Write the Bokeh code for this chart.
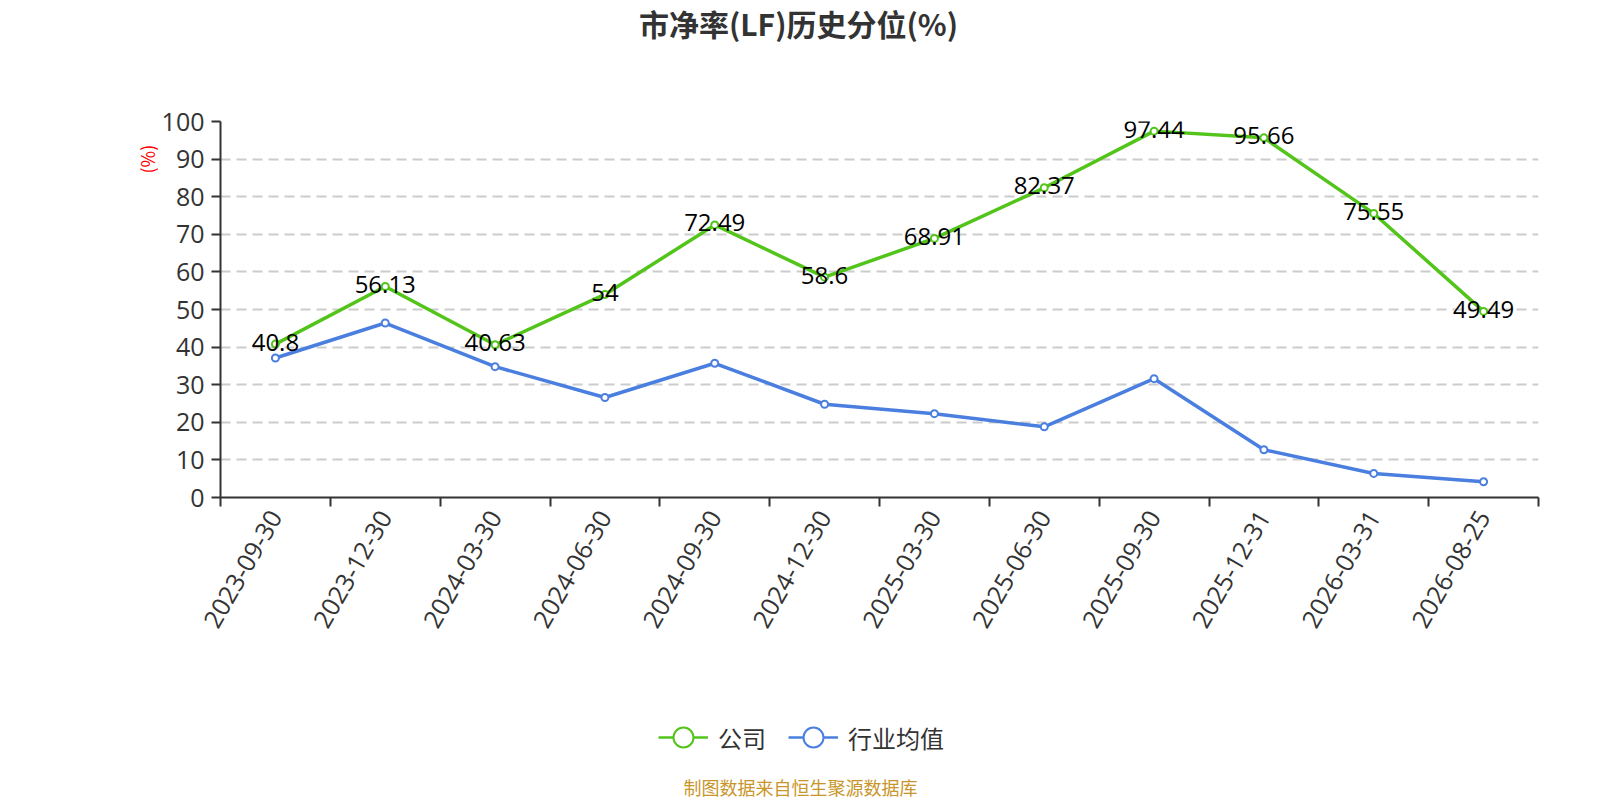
import math
from bokeh.plotting import figure
from bokeh.layouts import column, row
from bokeh.models import (ColumnDataSource, Range1d, FixedTicker, Label, LabelSet,
                          Legend, LegendItem)
from bokeh.core.properties import value
from bokeh.embed import file_html
from bokeh.resources import INLINE

# ---- data ----
dates = ["2023-09-30", "2023-12-30", "2024-03-30", "2024-06-30", "2024-09-30",
         "2024-12-30", "2025-03-30", "2025-06-30", "2025-09-30", "2025-12-31",
         "2026-03-31", "2026-08-25"]
company = [40.8, 56.13, 40.63, 54, 72.49, 58.6, 68.91, 82.37, 97.44, 95.66, 75.55, 49.49]
industry = [37.1, 46.4, 34.8, 26.6, 35.7, 24.8, 22.3, 18.8, 31.6, 12.7, 6.4, 4.2]
company_labels = ["40.8", "56.13", "40.63", "54", "72.49", "58.6", "68.91", "82.37",
                  "97.44", "95.66", "75.55", "49.49"]
y_ticks = [0, 10, 20, 30, 40, 50, 60, 70, 80, 90, 100]
title_text = "市净率(LF)历史分位(%)"
series_names = ["公司", "行业均值"]
y_name = "(%)"
footer_text = "制图数据来自恒生聚源数据库"

GREEN = "#52c41a"
BLUE = "#4a7fe0"
NUM_FONT = "Open Sans"
CJK_FONT = "Noto Sans CJK SC"

W = 1584
TOP_H = 100
MAIN_H = 560
BOT_H = 140
LEFT_W = 158

def blank(w, h):
    f = figure(width=w, height=h, x_range=Range1d(0, w), y_range=Range1d(0, h),
               x_axis_type=None, y_axis_type=None, output_backend="svg",
               toolbar_location=None, min_border=0)
    f.outline_line_color = None
    f.xgrid.visible = False
    f.ygrid.visible = False
    return f

# ---- title ----
top = blank(W, TOP_H)
top.add_layout(Label(x=798, y=TOP_H - 22, text=title_text, text_align="center",
                     text_baseline="middle", text_font=CJK_FONT,
                     text_font_size="30px", text_font_style="bold",
                     text_color="#333333"))

# ---- y name ----
left = blank(LEFT_W, MAIN_H)
left.add_layout(Label(x=146, y=MAIN_H - 56, text=y_name, text_align="center",
                      text_baseline="middle", angle=math.pi / 2,
                      text_font=CJK_FONT, text_font_size="18px",
                      text_color="#ff0000"))

# ---- main chart ----
n = len(dates)
centers = [i + 0.5 for i in range(n)]
bounds = list(range(n + 1))
src = ColumnDataSource(dict(x=centers, company=company, industry=industry,
                            lab=company_labels))

p = figure(frame_width=1318, frame_height=376,
           min_border_left=61, min_border_right=W - LEFT_W - 61 - 1318,
           min_border_top=21, min_border_bottom=MAIN_H - 21 - 376,
           x_range=Range1d(0, n), y_range=Range1d(0, 100),
           output_backend="svg", toolbar_location=None)
p.outline_line_color = None

p.xgrid.visible = False
p.ygrid.ticker = FixedTicker(ticks=y_ticks[1:])
p.ygrid.grid_line_color = "#cccccc"
p.ygrid.grid_line_width = 2
p.ygrid.grid_line_dash = "10 6"

ya = p.yaxis[0]
ya.ticker = FixedTicker(ticks=y_ticks)
ya.axis_line_color = "#333333"
ya.axis_line_width = 2
ya.major_tick_line_color = "#333333"
ya.major_tick_line_width = 2
ya.major_tick_out = 9
ya.major_tick_in = 0
ya.minor_tick_line_color = None
ya.major_label_text_font = NUM_FONT
ya.major_label_text_font_size = "25px"
ya.major_label_text_color = "#333333"
ya.major_label_standoff = 7

xa = p.xaxis[0]
xa.ticker = FixedTicker(ticks=centers, minor_ticks=bounds)
xa.major_label_overrides = {c: d for c, d in zip(centers, dates)}
xa.axis_line_color = "#333333"
xa.axis_line_width = 2
xa.major_tick_line_color = None
xa.minor_tick_line_color = "#333333"
xa.minor_tick_line_width = 2
xa.minor_tick_out = 9
xa.minor_tick_in = 0
xa.major_label_orientation = math.pi / 3
xa.major_label_text_font = NUM_FONT
xa.major_label_text_font_size = "25px"
xa.major_label_text_color = "#333333"
xa.major_label_standoff = 6

p.line("x", "company", source=src, line_color=GREEN, line_width=3.5)
p.scatter("x", "company", source=src, size=7, fill_color="white",
          line_color=GREEN, line_width=2)
p.line("x", "industry", source=src, line_color=BLUE, line_width=3.5)
p.scatter("x", "industry", source=src, size=7, fill_color="white",
          line_color=BLUE, line_width=2)

p.add_layout(LabelSet(x="x", y="company", text="lab", source=src,
                      text_align="center", text_baseline="middle", y_offset=2,
                      text_font=value(NUM_FONT), text_font_size="24px",
                      text_color="#000000"))

# ---- legend + footer ----
bot = blank(W, BOT_H)
off = dict(x=[-1000, -999], y=[-1000, -1000])  # proxy marks kept outside the view
gl = bot.line(x=off["x"], y=off["y"], line_color=GREEN, line_width=2.5)
gc = bot.scatter(x=off["x"], y=off["y"], size=20, fill_color="white",
                 line_color=GREEN, line_width=2)
bl = bot.line(x=off["x"], y=off["y"], line_color=BLUE, line_width=2.5)
bc = bot.scatter(x=off["x"], y=off["y"], size=20, fill_color="white",
                 line_color=BLUE, line_width=2)
legend = Legend(items=[LegendItem(label=series_names[0], renderers=[gl, gc]),
                       LegendItem(label=series_names[1], renderers=[bl, bc])],
                orientation="horizontal", location=(658, 35),
                glyph_width=50, glyph_height=56, label_standoff=10, spacing=22,
                padding=0, margin=0, border_line_color=None,
                background_fill_alpha=0,
                label_text_font=CJK_FONT, label_text_font_size="24px",
                label_text_color="#333333", label_text_baseline="middle")
bot.add_layout(legend, "center")
bot.add_layout(Label(x=800, y=14, text=footer_text, text_align="center",
                     text_baseline="middle", text_font=CJK_FONT,
                     text_font_size="18px", text_color="#c8962a"))

layout = column(top, row(left, p), bot)
open("out.html", "w").write(file_html(layout, INLINE))
